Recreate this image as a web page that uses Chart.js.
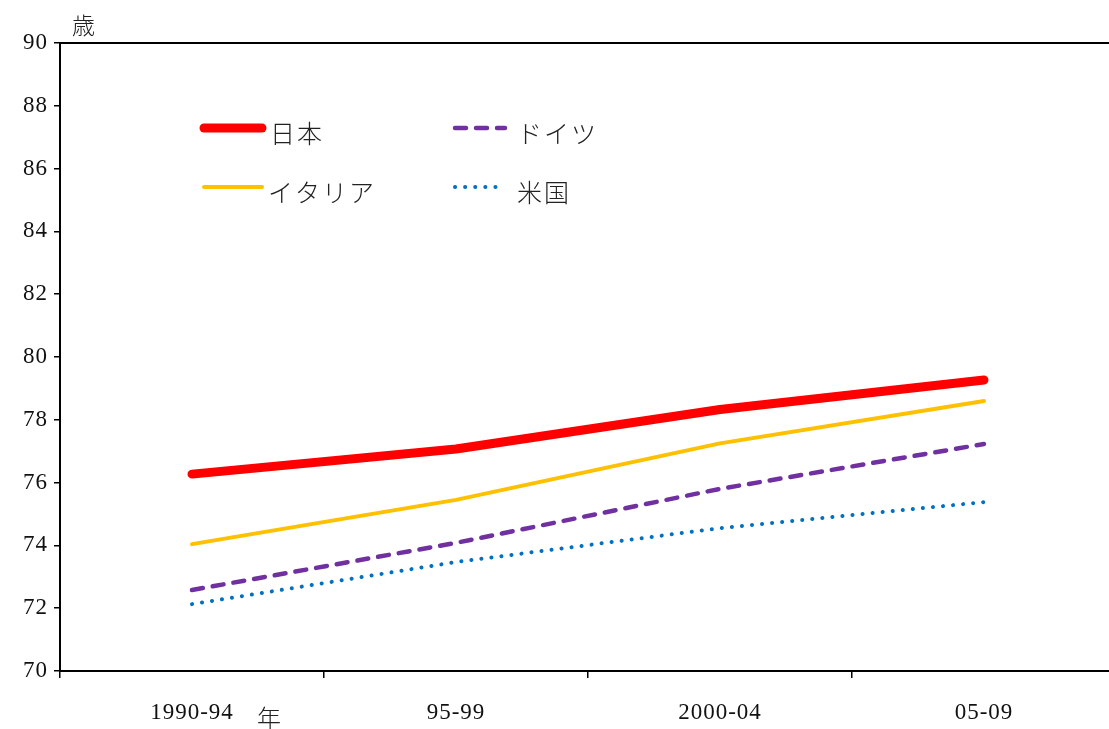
<!DOCTYPE html>
<html>
<head>
<meta charset="utf-8">
<script src="https://cdn.jsdelivr.net/npm/chart.js@4/dist/chart.umd.min.js"></script>
<style>
  html, body { margin: 0; padding: 0; background: #fff; overflow: hidden; }
  #wrap { width: 1109px; height: 729px; overflow: hidden; position: relative; }
  canvas { display: block; }
</style>
</head>
<body>
<div id="wrap"><canvas id="c" width="1116" height="729"></canvas></div>
<script>
// Periods (x categories)
const periods = ['1990-94', '95-99', '2000-04', '05-09'];

// Values in years for each country
const japan   = [76.27, 77.07, 78.33, 79.27];
const italy   = [74.04, 75.45, 77.25, 78.60];
const germany = [72.58, 74.08, 75.80, 77.23];
const usa     = [72.13, 73.47, 74.55, 75.38];

// Y axis range and step
const yMin = 70, yMax = 90, yStep = 2;

const serif = '"Liberation Serif", "DejaVu Serif", serif';
const jp = '"Noto Sans CJK JP", "Noto Sans", sans-serif';

// Slightly spaced digits for the axis labels
const spacingPlugin = {
  id: 'spacing',
  beforeDraw(chart) { chart.ctx.letterSpacing = '1px'; }
};

// Frame line along the top of the plot and the unit labels
const framePlugin = {
  id: 'frame',
  afterDraw(chart) {
    const { ctx, chartArea } = chart;
    ctx.save();
    ctx.letterSpacing = '0px';
    ctx.strokeStyle = '#000';
    ctx.lineWidth = 2;
    ctx.beginPath();
    ctx.moveTo(chartArea.left - 1, chartArea.top);
    ctx.lineTo(chartArea.right + 1, chartArea.top);
    ctx.stroke();
    ctx.fillStyle = '#222';
    ctx.font = '300 23px ' + jp;
    ctx.textBaseline = 'middle';
    ctx.textAlign = 'left';
    ctx.fillText('歳', 72, 25);
    ctx.font = '300 24px ' + jp;
    ctx.fillText('年', 257, 718);
    ctx.restore();
  }
};

// Legend drawn inside the plot area, two columns by two rows
const legendPlugin = {
  id: 'inlegend',
  afterDraw(chart) {
    const { ctx } = chart;
    const slots = [
      { x0: 204, x1: 262, y: 128, tx: 270 },
      { x0: 204, x1: 262, y: 187, tx: 268 },
      { x0: 455, x1: 505, y: 128, tx: 517 },
      { x0: 455, x1: 505, y: 187, tx: 517 }
    ];
    ctx.save();
    chart.data.datasets.forEach((ds, i) => {
      const s = slots[i];
      ctx.strokeStyle = ds.borderColor;
      ctx.lineWidth = ds.borderWidth;
      ctx.lineCap = ds.borderCapStyle || 'round';
      ctx.setLineDash(ds.borderDash || []);
      ctx.beginPath();
      ctx.moveTo(s.x0, s.y);
      ctx.lineTo(s.x1, s.y);
      ctx.stroke();
      ctx.setLineDash([]);
      ctx.fillStyle = '#222';
      ctx.font = '300 25px ' + jp;
      ctx.letterSpacing = '2px';
      ctx.textBaseline = 'middle';
      ctx.textAlign = 'left';
      ctx.fillText(ds.label, s.tx, s.y + 5);
    });
    ctx.restore();
  }
};

new Chart(document.getElementById('c'), {
  type: 'line',
  data: {
    labels: periods,
    datasets: [
      { label: '日本', data: japan, borderColor: '#FF0000', borderWidth: 9, borderCapStyle: 'round', borderJoinStyle: 'round' },
      { label: 'イタリア', data: italy, borderColor: '#FFC000', borderWidth: 4, borderCapStyle: 'round', borderJoinStyle: 'round' },
      { label: 'ドイツ', data: germany, borderColor: '#7030A0', borderWidth: 4.5, borderCapStyle: 'round', borderDash: [11, 10] },
      { label: '米国', data: usa, borderColor: '#0070C0', borderWidth: 4, borderCapStyle: 'round', borderDash: [0.1, 10] }
    ].map(d => Object.assign({ fill: false, tension: 0, pointRadius: 0, pointHoverRadius: 0 }, d))
  },
  options: {
    responsive: false,
    animation: false,
    events: [],
    layout: { padding: { top: 43, left: 0, right: 0, bottom: 0 } },
    plugins: { legend: { display: false }, tooltip: { enabled: false } },
    scales: {
      x: {
        offset: true,
        grid: { offset: true, drawOnChartArea: false, color: '#000', lineWidth: 1.5, tickLength: 7 },
        border: { color: '#000', width: 2 },
        ticks: { color: '#111', font: { family: serif, size: 23 }, padding: 21, maxRotation: 0 },
        afterFit(scale) { scale.height = 58; }
      },
      y: {
        min: yMin, max: yMax,
        grid: { drawOnChartArea: false, color: '#000', lineWidth: 1.5, tickLength: 6 },
        border: { color: '#000', width: 2 },
        ticks: { stepSize: yStep, color: '#111', font: { family: serif, size: 23 }, padding: 6 },
        afterFit(scale) { scale.width = 60; }
      }
    }
  },
  plugins: [spacingPlugin, framePlugin, legendPlugin]
});
</script>
</body>
</html>
